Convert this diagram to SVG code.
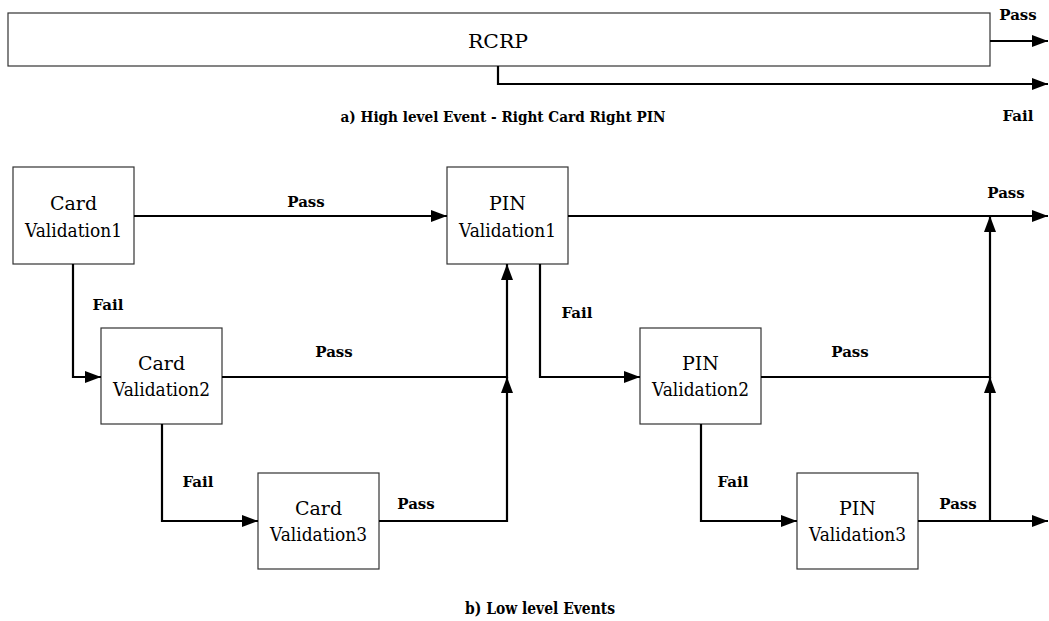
<svg xmlns="http://www.w3.org/2000/svg" width="1049" height="621" viewBox="0 0 1049 621">
<style>
  .box { fill: #ffffff; stroke: #333333; stroke-width: 1.2; }
  .conn { fill: none; stroke: #000000; stroke-width: 2.2; }
  .node { font-family: 'DejaVu Serif', 'Liberation Serif', serif; font-size: 19px; fill: #000; text-anchor: middle; }
  .lbl { font-family: 'DejaVu Serif', 'Liberation Serif', serif; font-size: 15px; font-weight: bold; fill: #000; text-anchor: middle; }
  .cap { font-family: 'DejaVu Serif', 'Liberation Serif', serif; font-weight: bold; fill: #000; text-anchor: middle; }
</style>
<defs>
  <marker id="arr" markerUnits="userSpaceOnUse" markerWidth="16" markerHeight="12" refX="16" refY="6" orient="auto">
    <path d="M0,0 L16,6 L0,12 Z" fill="#000"/>
  </marker>
</defs>
<rect width="1049" height="621" fill="#ffffff"/>

<!-- High level -->
<g id="rcrp">
  <rect class="box" x="8" y="13" width="982" height="53"/>
  <text class="node" x="498" y="48" textLength="60" lengthAdjust="spacingAndGlyphs">RCRP</text>
</g>

<!-- Low level nodes -->
<g id="card1">
  <rect class="box" x="13" y="167" width="121" height="97"/>
  <text class="node" x="73.5" y="210">Card</text>
  <text class="node" x="73.5" y="237" textLength="97" lengthAdjust="spacingAndGlyphs">Validation1</text>
</g>
<g id="pin1">
  <rect class="box" x="447" y="167" width="121" height="97"/>
  <text class="node" x="507.5" y="210">PIN</text>
  <text class="node" x="507.5" y="237" textLength="97" lengthAdjust="spacingAndGlyphs">Validation1</text>
</g>
<g id="card2">
  <rect class="box" x="101" y="328" width="121" height="96"/>
  <text class="node" x="161.5" y="370">Card</text>
  <text class="node" x="161.5" y="396" textLength="97" lengthAdjust="spacingAndGlyphs">Validation2</text>
</g>
<g id="pin2">
  <rect class="box" x="640" y="328" width="121" height="96"/>
  <text class="node" x="700.5" y="370">PIN</text>
  <text class="node" x="700.5" y="396" textLength="97" lengthAdjust="spacingAndGlyphs">Validation2</text>
</g>
<g id="card3">
  <rect class="box" x="258" y="473" width="121" height="96"/>
  <text class="node" x="318.5" y="515">Card</text>
  <text class="node" x="318.5" y="541" textLength="97" lengthAdjust="spacingAndGlyphs">Validation3</text>
</g>
<g id="pin3">
  <rect class="box" x="797" y="473" width="121" height="96"/>
  <text class="node" x="857.5" y="515">PIN</text>
  <text class="node" x="857.5" y="541" textLength="97" lengthAdjust="spacingAndGlyphs">Validation3</text>
</g>

<!-- Connectors -->
<g id="connectors">
  <path class="conn" d="M990,41 H1048" marker-end="url(#arr)"/>
  <path class="conn" d="M498,66 V84 H1048" marker-end="url(#arr)"/>

  <path class="conn" d="M134,216 H447" marker-end="url(#arr)"/>
  <path class="conn" d="M568,216 H1048" marker-end="url(#arr)"/>
  <path class="conn" d="M73,264 V377 H101" marker-end="url(#arr)"/>
  <path class="conn" d="M222,377 H507 V264" marker-end="url(#arr)"/>
  <path class="conn" d="M162,424 V521 H258" marker-end="url(#arr)"/>
  <path class="conn" d="M379,521 H507 V377" marker-end="url(#arr)"/>
  <path class="conn" d="M540,264 V377 H640" marker-end="url(#arr)"/>
  <path class="conn" d="M761,377 H990 V216" marker-end="url(#arr)"/>
  <path class="conn" d="M701,424 V521 H797" marker-end="url(#arr)"/>
  <path class="conn" d="M918,521 H1048" marker-end="url(#arr)"/>
  <path class="conn" d="M990,521 V377" marker-end="url(#arr)"/>
</g>

<!-- Labels -->
<g id="labels">
  <text class="lbl" x="1018" y="20">Pass</text>
  <text class="lbl" x="1018" y="121">Fail</text>
  <text class="lbl" x="306" y="207">Pass</text>
  <text class="lbl" x="1006" y="198">Pass</text>
  <text class="lbl" x="108" y="310">Fail</text>
  <text class="lbl" x="334" y="357">Pass</text>
  <text class="lbl" x="577" y="318">Fail</text>
  <text class="lbl" x="850" y="357">Pass</text>
  <text class="lbl" x="198" y="487">Fail</text>
  <text class="lbl" x="733" y="487">Fail</text>
  <text class="lbl" x="416" y="509">Pass</text>
  <text class="lbl" x="958" y="509">Pass</text>
</g>

<g id="captions">
  <text class="cap" x="503" y="122" style="font-size:15px" textLength="325" lengthAdjust="spacingAndGlyphs">a) High level Event - Right Card Right PIN</text>
  <text class="cap" x="540" y="614" style="font-size:16px" textLength="150" lengthAdjust="spacingAndGlyphs">b) Low level Events</text>
</g>
</svg>
